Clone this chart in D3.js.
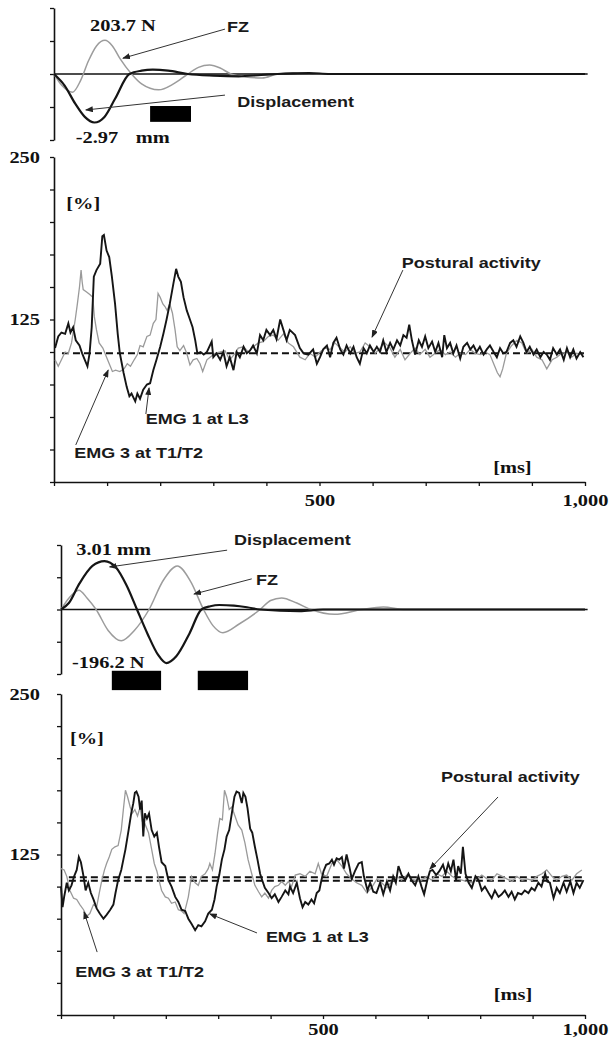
<!DOCTYPE html>
<html>
<head>
<meta charset="utf-8">
<script src="https://cdn.jsdelivr.net/npm/d3@7"></script>
<style>
  body { margin: 0; background: #fff; }
  svg { display: block; }
  .serif { font-family: "Liberation Serif", "Times New Roman", serif; font-weight: bold; font-size: 17px; fill: #111; }
  .sans { font-family: "Liberation Sans", Arial, sans-serif; font-weight: bold; font-size: 15px; fill: #1a1a1a; }
</style>
</head>
<body>
<svg id="chart" width="613" height="1041"></svg>
<script>
// --- data (time in ms, EMG in %, force/displacement in axis ticks) ---

const ticksMs = d3.range(0, 1001, 100);
const ticksPct = d3.range(0, 251, 25);
const ticksTop = [-2, -1, 0, 1, 2];
const pctLabels = [250, 125];
const msLabels = [500, 1000];

// upper figure
const dispA = [[0,0],[20,-0.35],[40,-0.9],[58,-1.3],[76,-1.47],[95,-1.3],[115,-0.75],[142,0],[165,0.1],[186,0.13],
  [215,0.1],[252,0],[300,-0.05],[348,-0.07],[390,-0.03],[421,0],[450,0.02],[480,0.03],[520,0],[1000,0]];
const fzA = [[0,0],[15,-0.35],[35,-0.55],[50,-0.2],[65,0.4],[80,0.85],[96,1.02],[110,0.85],[125,0.45],[146,0],
  [165,-0.3],[197,-0.48],[225,-0.3],[252,0],[272,0.2],[293,0.27],[313,0.18],[333,0],[360,-0.09],[392,-0.12],
  [421,0],[450,0.03],[480,0.03],[510,0],[1000,0]];
const barsA = [[181, 258]];
const barYA = [-0.97, -1.45];

const emg1A = [[2,103],[8,112],[14,115],[21,114],[27,122],[31,115],[36,119],[41,109],[48,105],[53,99],[58,94],[63,89],
  [67,99],[71,119],[75,158],[80,163],[87,168],[91,189],[94,190],[99,178],[104,173],[109,158],[115,137],[120,114],
  [124,99],[131,84],[137,73],[142,66],[146,68],[153,62],[157,68],[162,64],[168,71],[175,75],[181,76],[187,86],
  [193,94],[200,104],[206,114],[212,125],[218,137],[225,153],[230,164],[234,158],[239,154],[244,142],[250,132],
  [256,125],[261,119],[266,109],[270,99],[276,100],[282,98],[288,100],[297,108],[300,96],[306,99],[313,94],[319,100],
  [325,89],[331,96],[338,86],[344,100],[350,96],[357,104],[363,99],[369,101],[375,105],[382,99],[388,113],[394,109],
  [400,117],[407,113],[413,117],[419,110],[426,125],[432,117],[438,109],[444,117],[454,113],[463,103],[470,99],
  [479,98],[488,102],[495,91],[501,96],[507,102],[514,105],[520,96],[526,107],[532,111],[539,102],[545,98],[551,105],
  [558,99],[564,104],[570,96],[576,91],[583,103],[589,99],[595,105],[602,100],[608,104],[614,100],[620,109],[626,100],
  [633,107],[639,102],[646,109],[652,105],[658,113],[664,111],[669,121],[674,109],[680,98],[687,109],[693,104],
  [699,112],[705,103],[712,108],[718,100],[724,107],[731,96],[735,113],[740,103],[746,107],[752,99],[758,105],
  [765,95],[771,104],[778,107],[784,102],[790,105],[796,100],[802,104],[809,98],[815,102],[821,105],[828,100],
  [834,96],[840,103],[846,99],[852,100],[859,107],[865,109],[871,104],[878,112],[884,107],[890,100],[896,104],
  [903,98],[909,102],[916,96],[922,100],[928,98],[934,94],[940,103],[947,98],[953,102],[960,94],[966,103],[972,96],
  [978,102],[984,95],[991,100],[997,96]];
const emg3A = [[2,94],[8,89],[14,94],[21,100],[27,99],[33,107],[40,125],[44,137],[48,150],[51,163],[53,154],[55,148],
  [62,146],[68,144],[73,142],[76,127],[80,117],[85,107],[92,103],[99,96],[104,91],[110,85],[116,86],[124,85],[132,87],
  [138,91],[144,89],[151,94],[157,98],[162,105],[168,104],[175,112],[181,113],[187,122],[192,125],[196,145],[200,142],
  [205,137],[209,135],[213,132],[218,137],[223,130],[228,117],[232,104],[237,101],[244,105],[250,99],[256,90],[262,94],
  [269,95],[275,91],[280,85],[288,94],[294,96],[303,99],[313,100],[322,101],[331,94],[341,99],[347,103],[357,104],
  [366,100],[375,104],[385,107],[394,108],[404,112],[413,113],[422,109],[432,114],[441,107],[451,104],[463,96],
  [473,94],[482,99],[492,96],[501,100],[510,103],[520,102],[529,107],[539,103],[548,100],[558,104],[567,99],[576,100],
  [586,107],[595,104],[605,99],[614,103],[623,107],[633,103],[642,96],[652,102],[661,94],[671,99],[680,103],[689,98],
  [699,102],[708,96],[718,99],[727,102],[737,98],[746,100],[756,96],[765,99],[775,98],[784,102],[793,99],[803,98],
  [812,100],[821,98],[829,90],[835,84],[840,81],[845,87],[852,99],[862,105],[872,109],[881,107],[890,99],[900,102],
  [909,96],[919,94],[928,87],[938,94],[947,96],[956,99],[966,100],[975,96],[984,99],[997,98]];
const baselineA = [99];

// lower figure
const dispB = [[0,0],[15,0.2],[35,0.8],[60,1.35],[83,1.5],[105,1.3],[125,0.75],[145,0],[165,-0.75],[185,-1.4],
  [201,-1.66],[220,-1.45],[245,-0.75],[268,0],[285,0.1],[302,0.14],[330,0.12],[355,0.07],[380,0],[455,-0.05],
  [500,0],[1000,0]];
const fzB = [[0,0],[15,0.35],[34,0.6],[50,0.35],[67,0],[90,-0.65],[115,-0.97],[140,-0.65],[168,0],[195,0.9],
  [222,1.35],[248,0.85],[272,0],[290,-0.5],[309,-0.72],[340,-0.45],[380,0],[400,0.28],[421,0.36],[450,0.2],
  [477,0],[522,-0.15],[574,0],[615,0.08],[656,0],[1000,0]];
const barsB = [[97, 191], [261, 357]];
const barYB = [-1.9, -2.5];

const emg1B = [[0,100],[3,84],[6,92],[11,103],[15,97],[20,101],[25,108],[30,113],[34,123],[38,119],[43,108],[47,97],
  [52,103],[57,95],[62,90],[68,83],[74,79],[81,75],[87,78],[94,82],[100,86],[104,95],[109,105],[115,113],[119,121],
  [123,129],[129,144],[134,157],[138,165],[141,173],[144,174],[148,170],[151,160],[154,167],[157,139],[160,157],
  [164,153],[168,157],[173,144],[178,139],[183,142],[187,131],[192,119],[199,116],[205,105],[211,100],[218,92],
  [224,88],[230,82],[237,81],[243,75],[249,71],[256,66],[262,70],[268,69],[275,73],[281,79],[288,82],[293,90],
  [297,100],[302,109],[307,121],[312,129],[316,139],[321,144],[326,157],[331,170],[335,174],[340,173],[345,165],
  [348,173],[352,170],[356,161],[361,145],[365,142],[370,131],[375,121],[380,110],[384,105],[389,99],[396,95],
  [402,91],[408,94],[415,88],[421,92],[428,97],[434,94],[437,100],[443,95],[450,103],[456,91],[461,84],[466,88],
  [472,86],[478,90],[483,87],[488,95],[493,97],[497,105],[501,112],[506,117],[512,118],[517,121],[521,117],[526,122],
  [531,121],[536,123],[540,114],[545,125],[550,116],[555,106],[561,112],[568,118],[574,119],[578,108],[585,97],
  [590,103],[596,96],[602,95],[609,103],[615,94],[622,104],[628,97],[634,108],[639,103],[644,116],[650,109],[657,105],
  [663,110],[669,105],[676,101],[682,108],[688,100],[693,94],[699,105],[704,112],[709,113],[716,109],[722,112],
  [729,117],[734,110],[739,118],[744,112],[749,121],[754,105],[758,116],[763,110],[767,131],[772,110],[778,103],
  [784,99],[791,108],[797,105],[803,97],[809,100],[816,95],[822,91],[828,97],[835,92],[841,94],[847,97],[854,92],
  [860,96],[866,90],[872,95],[879,94],[885,97],[892,95],[898,99],[904,97],[911,103],[917,100],[924,110],[928,104],
  [933,103],[940,91],[946,99],[952,95],[959,103],[965,96],[972,104],[978,95],[984,103],[990,99],[997,105]];
const emg3B = [[0,114],[6,113],[11,108],[17,97],[24,91],[30,90],[36,86],[43,82],[49,77],[55,79],[62,86],[68,84],
  [73,95],[78,105],[83,113],[87,118],[92,123],[97,129],[103,131],[109,132],[115,144],[119,160],[123,175],[127,170],
  [132,162],[136,157],[141,160],[146,155],[151,162],[155,151],[160,149],[167,142],[173,129],[178,118],[183,112],
  [187,105],[192,97],[199,92],[205,91],[211,87],[218,88],[224,82],[230,81],[235,79],[240,87],[243,92],[246,100],
  [249,108],[256,103],[262,101],[268,108],[275,110],[281,114],[284,118],[289,113],[294,126],[299,142],[303,153],
  [308,152],[312,175],[316,170],[321,160],[326,162],[332,155],[338,148],[345,144],[351,134],[357,121],[364,110],
  [370,101],[377,96],[383,92],[389,95],[396,91],[402,97],[408,100],[415,101],[421,104],[428,101],[434,104],[440,100],
  [447,109],[456,110],[466,108],[475,112],[485,110],[491,118],[497,110],[507,108],[517,118],[526,121],[536,116],
  [545,110],[555,106],[564,103],[574,101],[584,95],[594,100],[603,106],[612,103],[622,99],[631,104],[641,108],
  [650,105],[660,109],[669,106],[679,104],[688,105],[698,108],[707,105],[717,110],[727,108],[736,112],[746,108],
  [755,106],[765,105],[774,104],[784,103],[794,106],[803,109],[813,106],[822,105],[832,110],[842,108],[851,106],
  [861,104],[870,108],[880,105],[889,106],[899,105],[908,108],[918,110],[927,113],[937,108],[946,105],[956,108],
  [965,109],[975,105],[984,110],[994,113]];
const baselineB = [104.6, 107.2];

// annotations: [ms, value, text, font] (left edge, vertical centre) and arrows [fromMs, fromVal, toMs, toVal]
const notesTopA = [[68,1.48,'203.7 N','serif'],[326,1.42,'FZ','sans'],[345,-0.85,'Displacement','sans'],
  [41,-1.91,'-2.97','serif'],[154,-1.91,'mm','serif']];
const arrowsTopA = [[322,1.36,130,0.48],[322,-0.64,60,-1.09]];
const notesEmgA = [[23,214.6,'[%]','serif'],[655,168.5,'Postural activity','sans'],[173,49,'EMG 1 at L3','sans'],
  [38,22.3,'EMG 3 at T1/T2','sans'],[827,11.5,'[ms]','serif']];
const arrowsEmgA = [[657,163,599,111.5],[173,52.3,179,72.3],[41,28.5,102,86]];

const notesTopB = [[29,1.88,'3.01 mm','serif'],[330,2.15,'Displacement','sans'],[372,0.91,'FZ','sans'],
  [21,-1.63,'-196.2 N','serif']];
const arrowsTopB = [[317,1.84,93,1.32],[364,0.95,254,0.48]];
const notesEmgB = [[17,215.7,'[%]','serif'],[725,185.4,'Postural activity','sans'],[391,60.7,'EMG 1 at L3','sans'],
  [27,33.5,'EMG 3 at T1/T2','sans'],[826,16.4,'[ms]','serif']];
const arrowsEmgB = [[834,169.8,704,113.7],[374,63.9,284,78.7],[69,49,44,80.2]];

// --- drawing ---

const svg = d3.select('#chart');
const STRETCH = 'scale(1.2,1)';

svg.append('defs').append('marker')
  .attr('id', 'tip').attr('markerUnits', 'userSpaceOnUse')
  .attr('markerWidth', 8).attr('markerHeight', 6).attr('refX', 7).attr('refY', 3)
  .attr('orient', 'auto')
  .append('path').attr('d', 'M0,0 L8,3 L0,6 z').attr('fill', '#222');

const panels = [
  { xr: [54, 585], topR: [140, 8], emgR: [482, 157], msPad: 8, disp: dispA, fz: fzA, bars: barsA, barY: barYA,
    emg1: emg1A, emg3: emg3A, base: baselineA, topNotes: notesTopA, topArrows: arrowsTopA,
    emgNotes: notesEmgA, emgArrows: arrowsEmgA },
  { xr: [61, 585], topR: [674, 545], emgR: [1015, 694], msPad: 4, disp: dispB, fz: fzB, bars: barsB, barY: barYB,
    emg1: emg1B, emg3: emg3B, base: baselineB, topNotes: notesTopB, topArrows: arrowsTopB,
    emgNotes: notesEmgB, emgArrows: arrowsEmgB }
];

function styleAxis(g) {
  g.select('.domain').attr('stroke', '#111').attr('stroke-width', 1.6);
  g.selectAll('.tick line').attr('stroke', '#111').attr('stroke-width', 1.3);
  g.selectAll('.tick text').attr('class', 'serif').attr('transform', STRETCH);
}

function addNotes(g, x, y, notes) {
  notes.forEach(n => {
    g.append('text')
      .attr('class', n[3])
      .attr('dy', '0.35em')
      .attr('transform', `translate(${x(n[0])},${y(n[1])}) ${STRETCH}`)
      .text(n[2]);
  });
}

function addArrows(g, x, y, arrows) {
  arrows.forEach(a => {
    g.append('line')
      .attr('x1', x(a[0])).attr('y1', y(a[1]))
      .attr('x2', x(a[2])).attr('y2', y(a[3]))
      .attr('stroke', '#333').attr('stroke-width', 1)
      .attr('marker-end', 'url(#tip)');
  });
}

panels.forEach(p => {
  const x = d3.scaleLinear().domain([0, 1000]).range(p.xr);
  const yTop = d3.scaleLinear().domain([-2, 2]).range(p.topR);
  const yEmg = d3.scaleLinear().domain([0, 250]).range(p.emgR);

  // force / displacement trace
  const top = svg.append('g');
  top.append('g')
    .attr('transform', `translate(${x(0)},0)`)
    .call(d3.axisLeft(yTop).tickValues(ticksTop).tickSize(4).tickSizeOuter(0).tickFormat(''))
    .call(styleAxis);

  top.append('line')
    .attr('x1', x(0)).attr('x2', x(1005))
    .attr('y1', yTop(0)).attr('y2', yTop(0))
    .attr('stroke', '#111').attr('stroke-width', 1.3);

  const lineTop = d3.line().x(d => x(d[0])).y(d => yTop(d[1])).curve(d3.curveMonotoneX);
  top.append('path').datum(p.fz).attr('d', lineTop)
    .attr('fill', 'none').attr('stroke', '#9c9c9c').attr('stroke-width', 1.5);
  top.append('path').datum(p.disp).attr('d', lineTop)
    .attr('fill', 'none').attr('stroke', '#151515').attr('stroke-width', 2.2);

  top.selectAll('rect.bar').data(p.bars).enter().append('rect')
    .attr('class', 'bar')
    .attr('x', d => x(d[0])).attr('width', d => x(d[1]) - x(d[0]))
    .attr('y', yTop(p.barY[0])).attr('height', yTop(p.barY[1]) - yTop(p.barY[0]))
    .attr('fill', '#000');

  addArrows(top, x, yTop, p.topArrows);
  addNotes(top, x, yTop, p.topNotes);

  // EMG trace
  const emg = svg.append('g');
  const pad = (x(0) - 40) / 1.2 - 4;
  emg.append('g')
    .attr('transform', `translate(${x(0)},0)`)
    .call(d3.axisLeft(yEmg).tickValues(ticksPct).tickSize(4).tickSizeOuter(0).tickPadding(pad)
      .tickFormat(d => pctLabels.includes(d) ? d : ''))
    .call(styleAxis);
  emg.append('g')
    .attr('transform', `translate(0,${yEmg(0)})`)
    .call(d3.axisBottom(x).tickValues(ticksMs).tickSize(4).tickSizeOuter(0).tickPadding(p.msPad)
      .tickFormat(d => msLabels.includes(d) ? d3.format(',')(d) : ''))
    .call(styleAxis);

  emg.selectAll('line.base').data(p.base).enter().append('line')
    .attr('class', 'base')
    .attr('x1', x(15)).attr('x2', x(998))
    .attr('y1', d => yEmg(d)).attr('y2', d => yEmg(d))
    .attr('stroke', '#111').attr('stroke-width', 2).attr('stroke-dasharray', '7,4');

  const lineEmg = d3.line().x(d => x(d[0])).y(d => yEmg(d[1]));
  emg.append('path').datum(p.emg3).attr('d', lineEmg)
    .attr('fill', 'none').attr('stroke', '#9a9a9a').attr('stroke-width', 1.3);
  emg.append('path').datum(p.emg1).attr('d', lineEmg)
    .attr('fill', 'none').attr('stroke', '#151515').attr('stroke-width', 1.9);

  addArrows(emg, x, yEmg, p.emgArrows);
  addNotes(emg, x, yEmg, p.emgNotes);
});
</script>
</body>
</html>
